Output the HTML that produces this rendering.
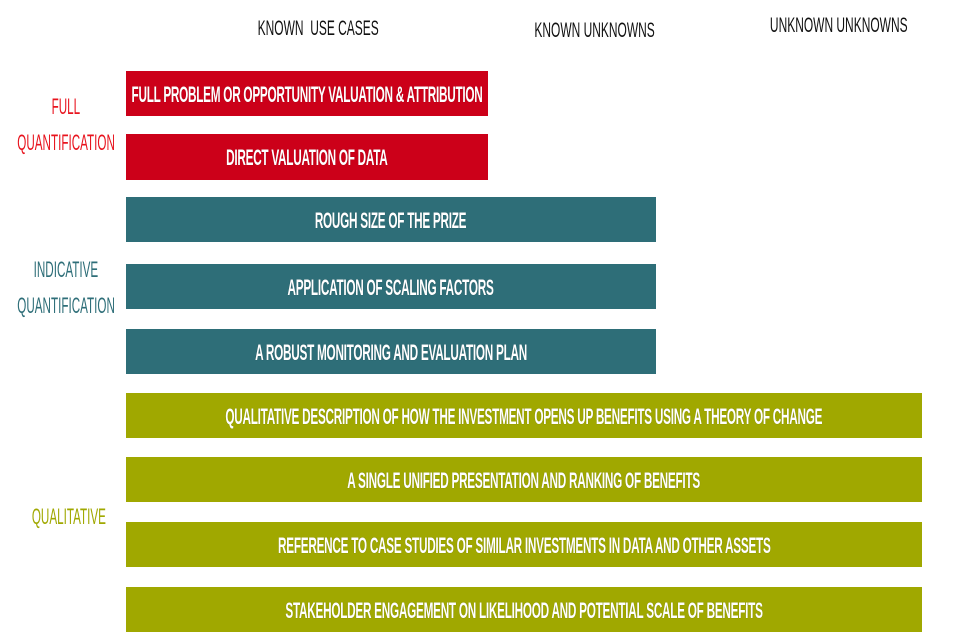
<!DOCTYPE html>
<html><head><meta charset="utf-8"><style>
body{margin:0;width:960px;height:640px;background:#fff;position:relative;overflow:hidden;font-family:"Liberation Sans Narrow","Liberation Sans",sans-serif}
.b{position:absolute;left:126px;display:flex;align-items:center;justify-content:center;color:#fff;font-weight:bold;font-size:22px;white-space:nowrap}
.b span{display:inline-block;transform:scaleX(0.535);letter-spacing:-0.5px;text-shadow:0 0 1px rgba(0,0,0,.4);position:relative;top:1px}
.r{background:#CC0019;width:362px}
.t{background:#2E6E78;width:530px}
.o{background:#A0A800;width:796px}
.l{position:absolute;width:200px;text-align:center;font-size:22px;white-space:nowrap}
.l span{display:inline-block;transform:scaleX(0.53)}
.h span{display:inline-block;transform:scaleX(0.57)}
.h{position:absolute;width:240px;text-align:center;font-size:21px;color:#111;white-space:nowrap}
</style></head><body>
<div class="h" style="left:198px;top:17px"><span>KNOWN&nbsp; USE CASES</span></div>
<div class="h" style="left:475px;top:19px"><span>KNOWN UNKNOWNS</span></div>
<div class="h" style="left:718px;top:14px"><span>UNKNOWN UNKNOWNS</span></div>

<div class="l" style="left:-34px;top:94px;color:#E8141E"><span>FULL</span></div>
<div class="l" style="left:-34px;top:130px;color:#E8141E"><span>QUANTIFICATION</span></div>
<div class="l" style="left:-34px;top:257px;color:#2E6E78"><span>INDICATIVE</span></div>
<div class="l" style="left:-34px;top:293px;color:#2E6E78"><span>QUANTIFICATION</span></div>
<div class="l" style="left:-31px;top:504px;color:#A0A800"><span>QUALITATIVE</span></div>

<div class="b r" style="top:71px;height:45px"><span>FULL PROBLEM OR OPPORTUNITY VALUATION &amp; ATTRIBUTION</span></div>
<div class="b r" style="top:134px;height:46px"><span>DIRECT VALUATION OF DATA</span></div>
<div class="b t" style="top:197px;height:45px"><span>ROUGH SIZE OF THE PRIZE</span></div>
<div class="b t" style="top:264px;height:45px"><span>APPLICATION OF SCALING FACTORS</span></div>
<div class="b t" style="top:329px;height:45px"><span>A ROBUST MONITORING AND EVALUATION PLAN</span></div>
<div class="b o" style="top:393px;height:45px"><span>QUALITATIVE DESCRIPTION OF HOW THE INVESTMENT OPENS UP BENEFITS USING A THEORY OF CHANGE</span></div>
<div class="b o" style="top:457px;height:45px"><span>A SINGLE UNIFIED PRESENTATION AND RANKING OF BENEFITS</span></div>
<div class="b o" style="top:522px;height:45px"><span>REFERENCE TO CASE STUDIES OF SIMILAR INVESTMENTS IN DATA AND OTHER ASSETS</span></div>
<div class="b o" style="top:587px;height:45px"><span>STAKEHOLDER ENGAGEMENT ON LIKELIHOOD AND POTENTIAL SCALE OF BENEFITS</span></div>
</body></html>
